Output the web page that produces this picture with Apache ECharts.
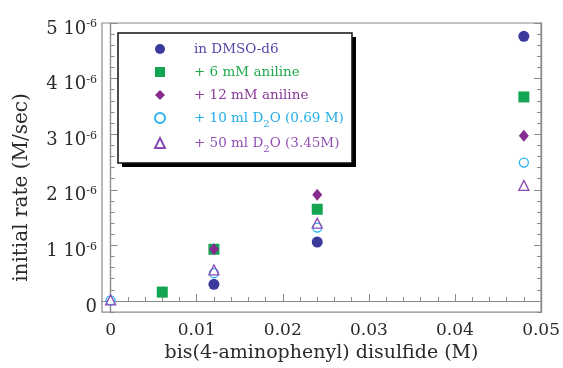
<!DOCTYPE html>
<html>
<head>
<meta charset="utf-8">
<script src="https://cdn.jsdelivr.net/npm/echarts@6/dist/echarts.min.js"></script>
<style>
  html, body { margin: 0; padding: 0; background: #fff; }
  #chart { width: 563px; height: 368px; }
</style>
</head>
<body>
<div id="chart"></div>
<script>
// concentration of bis(4-aminophenyl) disulfide (M)
const dmsoX = [0.012, 0.024, 0.048]
const dmsoY = [0.30e-6, 1.06e-6, 4.76e-6]
const an6X = [0.006, 0.012, 0.024, 0.048]
const an6Y = [0.16e-6, 0.93e-6, 1.65e-6, 3.67e-6]
const an12X = [0.012, 0.024, 0.048]
const an12Y = [0.93e-6, 1.91e-6, 2.97e-6]
const d2o10X = [0, 0.012, 0.024, 0.048]
const d2o10Y = [0.01e-6, 0.50e-6, 1.32e-6, 2.49e-6]
const d2o50X = [0, 0.012, 0.024, 0.048]
const d2o50Y = [0.02e-6, 0.56e-6, 1.40e-6, 2.08e-6]

const seriesNames = ['in DMSO-d6', '+ 6 mM aniline', '+ 12 mM aniline', '+ 10 ml D2O (0.69 M)', '+ 50 ml D2O (3.45M)']

const xTicks = [0, 0.01, 0.02, 0.03, 0.04, 0.05]
const xMinorTicks = [0.002, 0.004, 0.006, 0.008, 0.012, 0.014, 0.016, 0.018, 0.022, 0.024, 0.026, 0.028,
  0.032, 0.034, 0.036, 0.038, 0.042, 0.044, 0.046, 0.048]
const yTicks = [0, 1e-6, 2e-6, 3e-6, 4e-6, 5e-6]
const yMinorTicks = [-0.2e-6, 0.2e-6, 0.4e-6, 0.6e-6, 0.8e-6, 1.2e-6, 1.4e-6, 1.6e-6, 1.8e-6, 2.2e-6, 2.4e-6,
  2.6e-6, 2.8e-6, 3.2e-6, 3.4e-6, 3.6e-6, 3.8e-6, 4.2e-6, 4.4e-6, 4.6e-6, 4.8e-6]

const FONT = 'DejaVu Serif'
const AXIS_COLOR = '#8a8a8a'
const TEXT_COLOR = '#2a2a2a'

function pairs (xs, ys) {
  return xs.map((x, i) => [x, ys[i]])
}

function xAxisOf (ticks, len, withLabels) {
  return {
    type: 'value', position: 'bottom', min: -0.001, max: 0.05,
    axisLine: { show: true, lineStyle: { color: AXIS_COLOR, width: 1.2 } },
    axisTick: { show: true, inside: true, length: len, customValues: ticks, lineStyle: { color: AXIS_COLOR } },
    axisLabel: {
      show: withLabels, customValues: ticks, margin: 10,
      color: TEXT_COLOR, fontFamily: FONT, fontSize: 17,
      formatter: v => v === 0 ? '0' : v.toFixed(2)
    },
    splitLine: { show: false }
  }
}

function yAxisOf (pos, ticks, len, withLabels) {
  return {
    type: 'value', position: pos, min: -0.2e-6, max: 5e-6,
    axisLine: { show: true, lineStyle: { color: AXIS_COLOR, width: 1.2 } },
    axisTick: { show: true, inside: true, length: len, customValues: ticks, lineStyle: { color: AXIS_COLOR } },
    axisLabel: {
      show: withLabels, customValues: ticks, margin: 5,
      padding: [12, 0, 0, 0],
      color: TEXT_COLOR, fontFamily: FONT, fontSize: 18,
      formatter: v => {
        if (Math.abs(v) < 1e-12) return '{n|0}'
        return '{n|' + Math.round(v * 1e6) + ' 10}{sup|-6}'
      },
      rich: {
        n: { fontFamily: FONT, fontSize: 18, color: TEXT_COLOR, lineHeight: 20 },
        sup: { fontFamily: FONT, fontSize: 11, color: TEXT_COLOR, verticalAlign: 'top', lineHeight: 12 }
      }
    },
    splitLine: { show: false }
  }
}

const legendColors = ['#5548a8', '#22a84c', '#8a3a98', '#22aee6', '#9150b4']

let myChart = echarts.init(document.getElementById('chart'))
myChart.setOption({
  animation: false,
  backgroundColor: '#fff',
  grid: { left: 102, right: 20, top: 23, bottom: 55, show: true, borderColor: AXIS_COLOR, borderWidth: 1.2 },
  // legend frame with heavy drop edge
  graphic: [
    { type: 'rect', z: 5, shape: { x: 122, y: 37, width: 234, height: 130 }, style: { fill: '#000' } },
    { type: 'rect', z: 6, shape: { x: 118, y: 33, width: 234, height: 130 }, style: { fill: '#fff', stroke: '#111', lineWidth: 1.5 } }
  ],
  legend: {
    z: 10,
    orient: 'vertical',
    left: 118,
    top: 33,
    padding: [7, 12, 16, 36],
    itemWidth: 10,
    itemHeight: 10,
    itemGap: 5,
    textStyle: {
      fontFamily: FONT, fontSize: 13.5, lineHeight: 18,
      padding: [0, 0, 0, 24],
      rich: {
        sub: { fontFamily: FONT, fontSize: 10, verticalAlign: 'top', padding: [10, 0, 0, 0] }
      }
    },
    formatter: name => name.replace('D2O', 'D{sub|2}O'),
    data: seriesNames.map((n, i) => ({ name: n, textStyle: { color: legendColors[i] } }))
  },
  xAxis: [
    Object.assign(xAxisOf(xTicks, 7, true), {
      name: 'bis(4-aminophenyl) disulfide (M)',
      nameLocation: 'middle',
      nameGap: 30,
      nameTextStyle: { fontFamily: FONT, fontSize: 19, color: TEXT_COLOR }
    }),
    xAxisOf(xMinorTicks, 4, false)
  ],
  yAxis: [
    Object.assign(yAxisOf('left', yTicks, 7, true), {
      name: 'initial rate (M/sec)',
      nameLocation: 'middle',
      nameGap: 70,
      nameTextStyle: { fontFamily: FONT, fontSize: 20, color: TEXT_COLOR, padding: [0, 40, 0, 0] }
    }),
    yAxisOf('left', yMinorTicks, 4, false),
    yAxisOf('right', yTicks, 7, false),
    yAxisOf('right', yMinorTicks, 4, false)
  ],
  series: [
    {
      name: seriesNames[0], type: 'scatter', symbol: 'circle', symbolSize: 11,
      itemStyle: { color: '#3b3a9c', opacity: 1 },
      data: pairs(dmsoX, dmsoY)
    },
    {
      name: seriesNames[1], type: 'scatter', symbol: 'rect', symbolSize: 11,
      itemStyle: { color: '#14a552', opacity: 1 },
      data: pairs(an6X, an6Y)
    },
    {
      name: seriesNames[2], type: 'scatter', symbol: 'diamond', symbolSize: [10, 12],
      itemStyle: { color: '#862c8e', opacity: 1 },
      data: pairs(an12X, an12Y)
    },
    {
      name: seriesNames[3], type: 'scatter', symbol: 'circle', symbolSize: 9,
      itemStyle: { color: '#fff', borderColor: '#2ab2ee', borderWidth: 1.3, opacity: 1 },
      data: pairs(d2o10X, d2o10Y)
    },
    {
      name: seriesNames[4], type: 'scatter', symbol: 'triangle', symbolSize: 10,
      itemStyle: { color: 'rgba(255,255,255,0)', borderColor: '#8a4ab5', borderWidth: 1.3, opacity: 1 },
      data: pairs(d2o50X, d2o50Y)
    }
  ]
})
</script>
</body>
</html>
